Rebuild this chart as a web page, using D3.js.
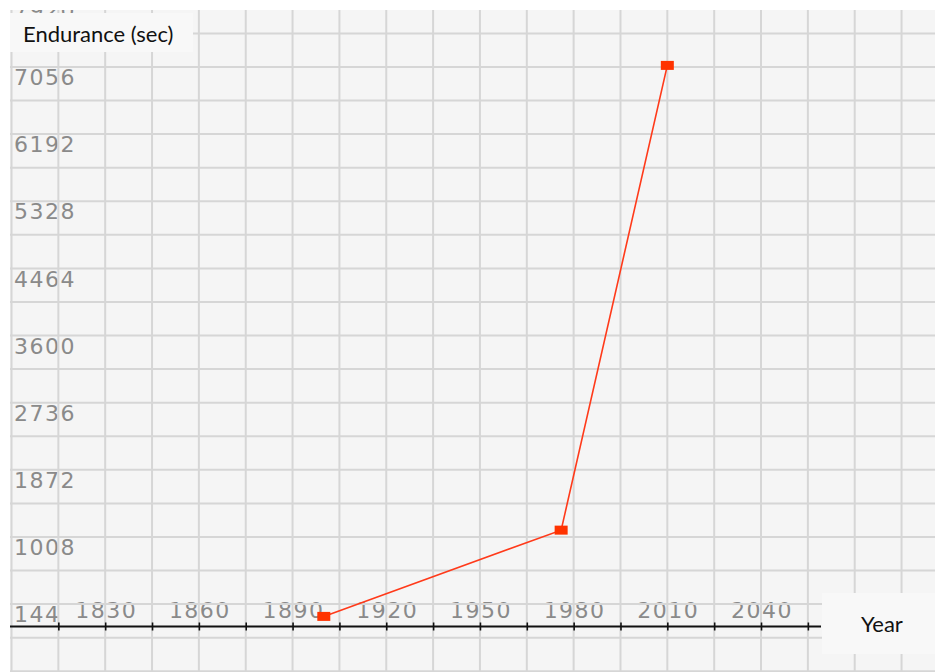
<!DOCTYPE html>
<html>
<head>
<meta charset="utf-8">
<script src="https://cdn.jsdelivr.net/npm/d3@7"></script>
<style>
  body { margin: 0; background: #fff; }
  svg { display: block; }
</style>
</head>
<body>
<svg width="935" height="672"></svg>
<script>
// data
var years = [1900, 1976, 2010];
var endurance = [130, 1240, 7220];
var yTickLabels = [144, 1008, 1872, 2736, 3600, 4464, 5328, 6192, 7056, 7920];
var xTickLabels = [1830, 1860, 1890, 1920, 1950, 1980, 2010, 2040];
var xTicks = d3.range(1815, 2056, 15);
var xGrid = d3.range(1800, 2101, 15);
var yGrid = d3.range(-720, 8400, 432).map(function(v) { return v + 144; });

var svg = d3.select("svg"),
  width = +svg.attr("width"),
  height = +svg.attr("height");

var x = d3.scaleLinear().domain([1800, 2100]).range([11.5, 948.4]);
var y = d3.scaleLinear().domain([0, 7920]).range([626.5, 11]);

svg.append("defs").append("clipPath").attr("id", "plot")
  .append("rect").attr("x", 10).attr("y", 10).attr("width", width - 10).attr("height", height - 10);

var g = svg.append("g").attr("clip-path", "url(#plot)");

g.append("rect")
  .attr("x", 10).attr("y", 10)
  .attr("width", width - 10).attr("height", height - 10)
  .attr("fill", "#f5f5f5");

// tick labels sit under the grid lines
var labelStyle = function(sel) {
  sel.attr("font-family", "DejaVu Sans")
    .attr("font-size", 22)
    .attr("letter-spacing", 1.5)
    .attr("fill", "#8a8a8a");
};

g.selectAll(".ylab")
  .data(yTickLabels)
  .enter().append("text")
  .attr("class", "ylab")
  .attr("x", 14)
  .attr("y", function(d) { return y(d) + 7; })
  .text(function(d) { return d; })
  .call(labelStyle);

g.selectAll(".xlab")
  .data(xTickLabels)
  .enter().append("text")
  .attr("class", "xlab")
  .attr("x", function(d) { return x(d) + 1; })
  .attr("y", 618)
  .attr("text-anchor", "middle")
  .text(function(d) { return d; })
  .call(labelStyle);

// grid
g.selectAll(".vgrid")
  .data(xGrid)
  .enter().append("line")
  .attr("x1", function(d) { return x(d); })
  .attr("x2", function(d) { return x(d); })
  .attr("y1", 10).attr("y2", height)
  .attr("stroke", "#d6d6d6").attr("stroke-width", 2);

g.selectAll(".hgrid")
  .data(yGrid)
  .enter().append("line")
  .attr("x1", 10).attr("x2", width)
  .attr("y1", function(d) { return y(d); })
  .attr("y2", function(d) { return y(d); })
  .attr("stroke", "#d6d6d6").attr("stroke-width", 2);

// x axis
var axis = g.append("g")
  .attr("transform", "translate(0," + y(0) + ")")
  .call(d3.axisBottom(x).tickValues(xTicks).tickSize(4).tickFormat(""));
axis.select(".domain").remove();
axis.selectAll(".tick line")
  .attr("y1", -4).attr("y2", 4)
  .attr("stroke", "#111").attr("stroke-width", 1.6);
axis.append("line")
  .attr("x1", 10).attr("x2", 821)
  .attr("stroke", "#111").attr("stroke-width", 1.8);

// series
var pts = years.map(function(d, i) { return [d, endurance[i]]; });

g.append("path")
  .datum(pts)
  .attr("fill", "none")
  .attr("stroke", "#ff3a1a")
  .attr("stroke-width", 1.6)
  .attr("d", d3.line()
    .x(function(d) { return x(d[0]); })
    .y(function(d) { return y(d[1]); }));

g.selectAll(".mark")
  .data(pts)
  .enter().append("rect")
  .attr("x", function(d) { return x(d[0]) - 6.5; })
  .attr("y", function(d) { return y(d[1]) - 4.5; })
  .attr("width", 13).attr("height", 9)
  .attr("fill", "#ff3300");

// axis title boxes
g.append("rect")
  .attr("x", 10).attr("y", 13).attr("width", 183).attr("height", 39)
  .attr("fill", "#f8f8f8");
g.append("text")
  .attr("x", 23).attr("y", 42)
  .attr("font-family", "Lato")
  .attr("font-size", 22)
  .attr("fill", "#111")
  .text("Endurance (sec)");

g.append("rect")
  .attr("x", 822).attr("y", 593).attr("width", 113).attr("height", 61)
  .attr("fill", "#f8f8f8");
g.append("text")
  .attr("x", 861).attr("y", 632)
  .attr("font-family", "Lato")
  .attr("font-size", 22)
  .attr("fill", "#111")
  .text("Year");
</script>
</body>
</html>
